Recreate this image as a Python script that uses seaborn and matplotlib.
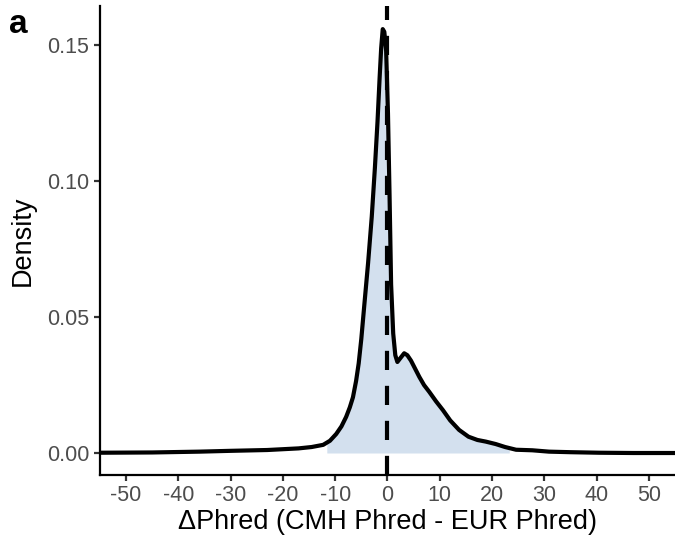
import numpy as np
import pandas as pd
import matplotlib
matplotlib.use("Agg")
import matplotlib.pyplot as plt
import seaborn as sns

# density curve (x = delta Phred, y = density)
delta_phred = [-55, -45, -36, -30, -23, -17, -14.5, -12.3, -11.0, -9.8, -8.8,
               -7.9, -7.2, -6.6, -6.0, -5.5, -5.0, -4.4, -3.7, -3.0, -2.4,
               -1.9, -1.5, -1.2, -0.9, -0.6, -0.25, 0.1, 0.4, 0.7, 1.1, 1.5,
               1.9, 2.5, 3.2, 3.8, 4.5, 5.3, 6.1, 7.0, 8.0, 9.3, 10.6, 12.0,
               13.7, 15.5, 17.2, 18.8, 20.7, 22.5, 24.6, 27.7, 30.9, 35, 40.5,
               47, 55]
density = [0.0001, 0.0002, 0.0005, 0.0008, 0.0011, 0.0017, 0.0022, 0.0030,
           0.0045, 0.0070, 0.0098, 0.0133, 0.0168, 0.0205, 0.0265, 0.033,
           0.042, 0.055, 0.070, 0.087, 0.105, 0.122, 0.138, 0.149, 0.156,
           0.155, 0.148, 0.125, 0.095, 0.062, 0.044, 0.036, 0.0335, 0.0350,
           0.0367, 0.036, 0.034, 0.031, 0.028, 0.025, 0.0225, 0.019, 0.0158,
           0.012, 0.0085, 0.006, 0.0048, 0.0042, 0.0033, 0.0022, 0.0012,
           0.0010, 0.0005, 0.0003, 0.0001, 0.0, 0.0]

shade_from, shade_to = -11.6, 23.3
x_ticks = [-50, -40, -30, -20, -10, 0, 10, 20, 30, 40, 50]
y_ticks = [0.00, 0.05, 0.10, 0.15]

df = pd.DataFrame({"delta": delta_phred, "density": density})

sns.set_style("ticks")
plt.rcParams["font.family"] = ["Liberation Sans", "DejaVu Sans"]
plt.rcParams["axes.unicode_minus"] = False
plt.rcParams["text.color"] = "black"
plt.rcParams["axes.labelcolor"] = "black"

fig = plt.figure(figsize=(6.75, 5.47), dpi=100)
ax = fig.add_axes([0.148, 0.1316, 0.852, 0.8574])

# shaded part under the curve
xs = np.linspace(shade_from, shade_to, 600)
ax.fill_between(xs, 0, np.interp(xs, df["delta"], df["density"]),
                color="#d3e0ee", lw=0, zorder=1)

sns.lineplot(data=df, x="delta", y="density", color="black", lw=3,
             ax=ax, zorder=3)
ax.axvline(0, color="black", lw=3, dashes=(4.6, 3.8), zorder=4)

ax.set_xlim(-55, 55)
ax.set_ylim(-0.0081, 0.1645)
ax.set_xticks(x_ticks)
ax.set_yticks(y_ticks)
ax.set_yticklabels([f"{v:.2f}" for v in y_ticks])

for side in ["top", "right"]:
    ax.spines[side].set_visible(False)
for side in ["left", "bottom"]:
    ax.spines[side].set_linewidth(1.6)
    ax.spines[side].set_color("black")

ax.tick_params(axis="both", length=4.5, width=1.6, color="#333333",
               labelsize=15.5, labelcolor="#4d4d4d", pad=3)

ax.set_xlabel("\u0394Phred (CMH Phred - EUR Phred)", fontsize=19.5, labelpad=2)
ax.set_ylabel("Density", fontsize=19.5, labelpad=8)

fig.text(9 / 675, 1 - 33 / 547, "a", fontsize=24, fontweight="bold",
         va="baseline", ha="left")

fig.savefig("out.png", dpi=100)
